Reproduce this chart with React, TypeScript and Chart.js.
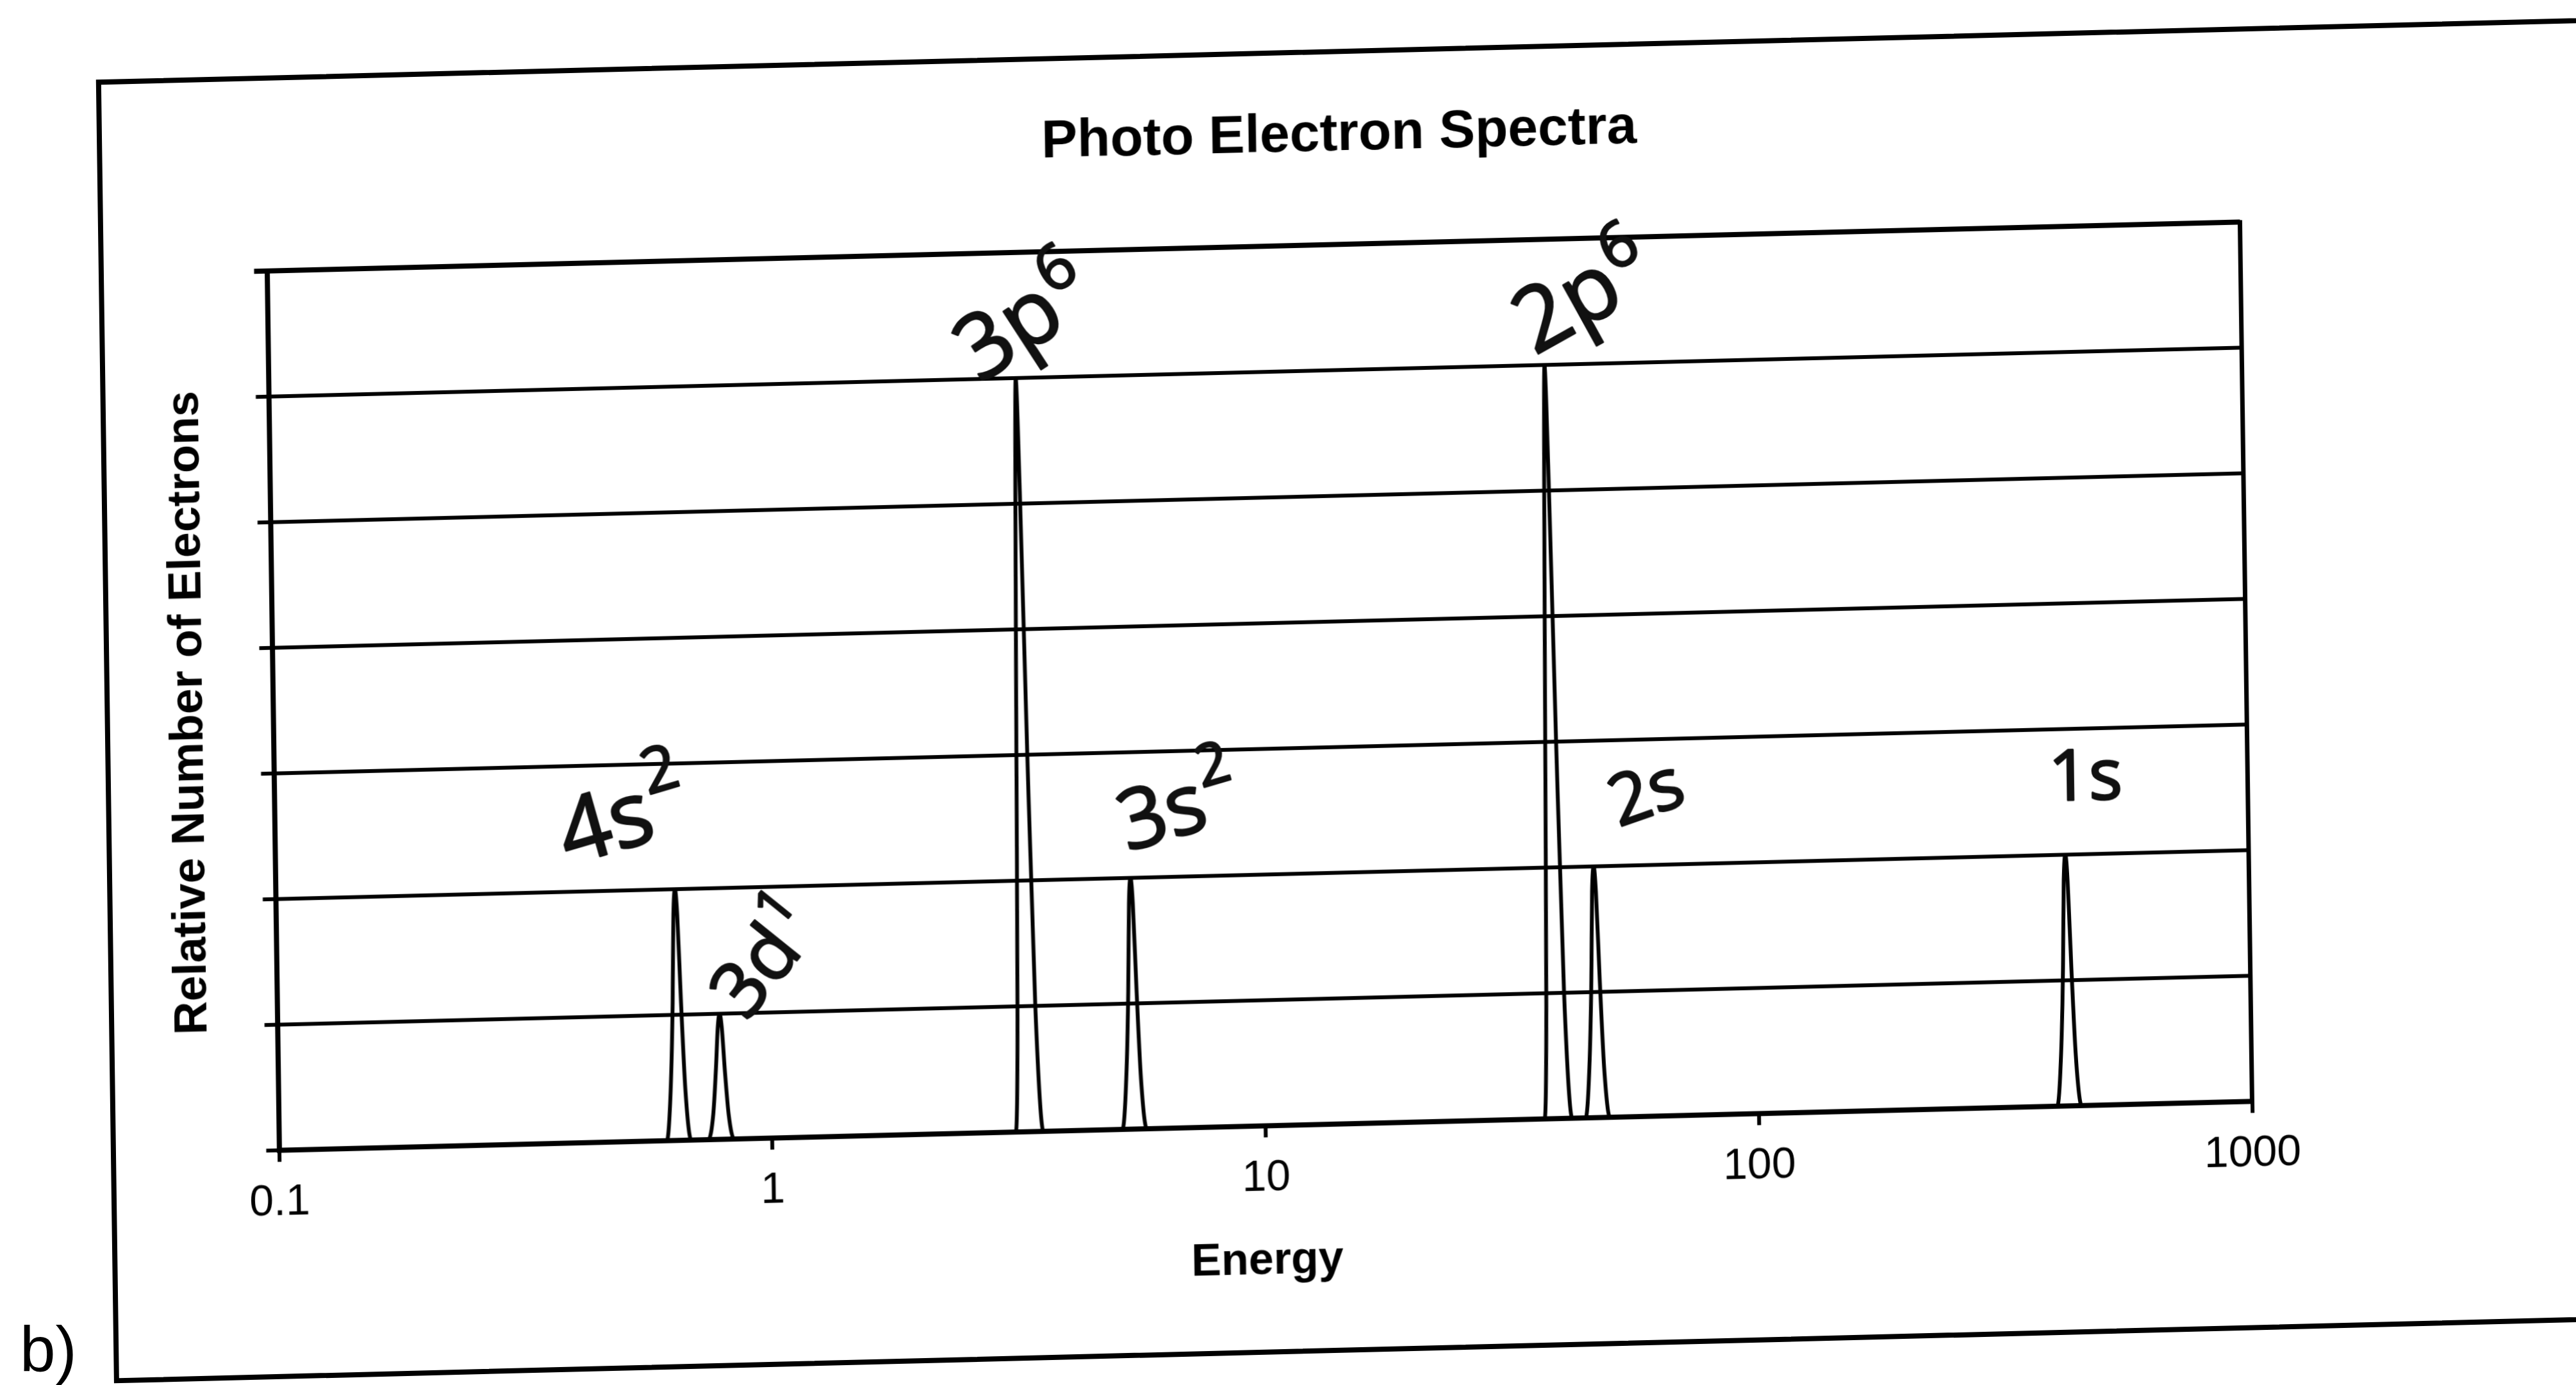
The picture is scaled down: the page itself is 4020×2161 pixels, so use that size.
import React, { useEffect, useRef } from "react";
import { Chart, registerables } from "chart.js";

Chart.register(...registerables);

// ---------------- data ----------------
const chartTitle = "Photo Electron Spectra";
const xAxisTitle = "Energy";
const yAxisTitle = "Relative Number of Electrons";
const xTickValues = [0.1, 1, 10, 100, 1000];
const xTickLabels = ["0.1", "1", "10", "100", "1000"];
const yMin = 0;
const yMax = 7;

// spectrum trace (energy, relative number of electrons)
const energies = [
  0.1,
  0.6112, 0.6241, 0.6335, 0.6393, 0.645, 0.6508, 0.6587, 0.6686, 0.6848,
  0.7422, 0.7602, 0.7717, 0.781, 0.788, 0.7951, 0.8047, 0.8168, 0.8366,
  3.117, 3.164, 3.202, 3.241, 3.27, 3.309, 3.369, 3.441, 3.545,
  5.127, 5.235, 5.314, 5.362, 5.41, 5.459, 5.525, 5.608, 5.744,
  36.8, 37.35, 37.8, 38.26, 38.6, 39.06, 39.77, 40.61, 41.85,
  44.54, 45.48, 46.16, 46.58, 47.0, 47.42, 48.0, 48.72, 49.9,
  402.7, 411.2, 417.4, 421.2, 425.0, 428.8, 434.0, 440.6, 451.2,
  1000,
];
const counts = [
  0,
  0, 0.4, 1.1, 1.8, 2, 1.8, 1.1, 0.4, 0,
  0, 0.2, 0.55, 0.9, 1, 0.9, 0.55, 0.2, 0,
  0, 0.9, 3, 5.1, 6, 5.1, 3, 1, 0,
  0, 0.4, 1.1, 1.8, 2, 1.8, 1.1, 0.4, 0,
  0, 0.9, 3, 5.1, 6, 5.1, 3, 1, 0,
  0, 0.4, 1.1, 1.8, 2, 1.8, 1.1, 0.4, 0,
  0, 0.4, 1.1, 1.8, 2, 1.8, 1.1, 0.4, 0,
  0,
];

// handwritten peak annotations
const peakLabels = ["4s", "3d", "3p", "3s", "2p", "2s", "1s"];
const peakSups = ["2", "1", "6", "2", "6", "", ""];
const peakEnergies = [0.645, 0.788, 3.27, 5.41, 38.6, 47.0, 425];
const peakLevels = [2, 1, 6, 2, 6, 2, 2];

// ---------------- styles ----------------
const labelStyles = [
  { dx: -78, dy: -106, angle: -15, size: 140, supUp: 0.42 },
  { dx: 77, dy: -80, angle: -50, size: 120, supUp: 0.35 },
  { dx: 17, dy: -85, angle: -32, size: 140, supUp: 0.3 },
  { dx: 77, dy: -101, angle: -15, size: 130, supUp: 0.4 },
  { dx: 64, dy: -102, angle: -28, size: 140, supUp: 0.3 },
  { dx: 85, dy: -108, angle: -18, size: 110, supUp: 0.4 },
  { dx: 33, dy: -116, angle: 0, size: 110, supUp: 0.4 },
];

const FONT = "'Liberation Sans', Arial, sans-serif";
const HAND_FONT = "'Open Sans', 'DejaVu Sans', sans-serif";
const CANVAS_W = 4172;
const CANVAS_H = 2200;

export default function App() {
  const canvasRef = useRef<HTMLCanvasElement | null>(null);

  useEffect(() => {
    const canvas = canvasRef.current;
    if (!canvas) return;

    const labelPlugin = {
      id: "handLabels",
      afterDatasetsDraw(chart: any) {
        const { ctx, scales } = chart;
        const xs = scales.x;
        const ys = scales.y;
        ctx.save();
        ctx.fillStyle = "#111";
        ctx.strokeStyle = "#111";
        ctx.lineWidth = 3;
        ctx.lineJoin = "round";
        peakLabels.forEach((txt, i) => {
          const st = labelStyles[i];
          const px = xs.getPixelForValue(peakEnergies[i]) + st.dx;
          const py = ys.getPixelForValue(peakLevels[i]) + st.dy;
          ctx.save();
          ctx.translate(px, py);
          ctx.rotate((st.angle * Math.PI) / 180);
          ctx.textBaseline = "middle";
          ctx.textAlign = "left";
          ctx.font = `400 ${st.size}px ${HAND_FONT}`;
          const w = ctx.measureText(txt).width;
          const supSize = st.size * 0.7;
          ctx.font = `400 ${supSize}px ${HAND_FONT}`;
          const ws = peakSups[i] ? ctx.measureText(peakSups[i]).width : 0;
          const total = w + ws;
          ctx.font = `400 ${st.size}px ${HAND_FONT}`;
          ctx.fillText(txt, -total / 2, 0);
          ctx.strokeText(txt, -total / 2, 0);
          if (peakSups[i]) {
            ctx.font = `400 ${supSize}px ${HAND_FONT}`;
            ctx.fillText(peakSups[i], -total / 2 + w + 2, -st.size * st.supUp);
            ctx.strokeText(peakSups[i], -total / 2 + w + 2, -st.size * st.supUp);
          }
          ctx.restore();
        });
        ctx.restore();
      },
    };

    const chart = new Chart(canvas, {
      type: "line",
      data: {
        datasets: [
          {
            data: energies.map((e, i) => ({ x: e, y: counts[i] })),
            borderColor: "#000",
            borderWidth: 6,
            pointRadius: 0,
            cubicInterpolationMode: "monotone",
            fill: false,
            xAxisID: "x",
            yAxisID: "y",
          } as any,
        ],
      },
      options: {
        responsive: false,
        animation: false,
        devicePixelRatio: 1,
        layout: { padding: 0 },
        plugins: {
          legend: { display: false },
          tooltip: { enabled: false },
          title: {
            display: true,
            text: chartTitle,
            color: "#000",
            font: { family: FONT, size: 84, weight: "bold", lineHeight: 1.2 },
            padding: { top: 212, bottom: 120.6 },
          },
        },
        scales: {
          x: {
            type: "logarithmic",
            position: "bottom",
            min: xTickValues[0],
            max: xTickValues[xTickValues.length - 1],
            afterBuildTicks: (s: any) => {
              s.ticks = xTickValues.map((v) => ({ value: v }));
            },
            afterFit: (s: any) => {
              s.height = 395;
            },
            ticks: {
              autoSkip: false,
              maxRotation: 0,
              minRotation: 0,
              color: "#000",
              font: { family: FONT, size: 68 },
              padding: 23,
              callback: (_v: any, i: number) => xTickLabels[i],
            },
            grid: {
              drawOnChartArea: false,
              drawTicks: true,
              tickLength: 18,
              color: "#000",
              lineWidth: 6,
            },
            border: { display: true, color: "#000", width: 8 },
            title: {
              display: true,
              text: xAxisTitle,
              color: "#000",
              font: { family: FONT, size: 70, weight: "bold", lineHeight: 1.2 },
              padding: { top: 0, bottom: 141 },
            },
          },
          y: {
            type: "linear",
            position: "left",
            min: yMin,
            max: yMax,
            afterFit: (s: any) => {
              s.width = 410.5;
            },
            ticks: { display: false, stepSize: 1 },
            grid: {
              color: "#000",
              lineWidth: (c: any) => (c.tick && c.tick.value === yMax ? 8 : 6),
              tickLength: 20,
              drawTicks: true,
            },
            border: { display: true, color: "#000", width: 8 },
            title: {
              display: true,
              text: yAxisTitle,
              color: "#000",
              font: { family: FONT, size: 72, weight: "bold", lineHeight: 1.2 },
              padding: { top: 236.8, bottom: 0 },
            },
          },
          y2: {
            type: "linear",
            position: "right",
            display: true,
            afterFit: (s: any) => {
              s.width = 682.5;
            },
            grid: { display: false, drawTicks: false },
            ticks: { display: false },
            border: { display: true, color: "#000", width: 7 },
          },
        },
      } as any,
      plugins: [labelPlugin],
    });

    return () => {
      chart.destroy();
    };
  }, []);

  return (
    <div
      style={{
        position: "fixed",
        left: 0,
        top: 0,
        width: 4020,
        height: 2161,
        overflow: "hidden",
        background: "#fff",
      }}
    >
      <div
        style={{
          position: "absolute",
          left: 0,
          top: 0,
          width: 4400,
          height: 2300,
          transformOrigin: "0 0",
          transform: "matrix(1, -0.0248, 0.01385, 1, 0, 0)",
        }}
      >
        <div
          style={{
            position: "absolute",
            left: 148,
            top: 128,
            width: 4300,
            height: 2034,
            border: "8px solid #000",
            boxSizing: "border-box",
          }}
        />
        <canvas
          ref={canvasRef}
          width={CANVAS_W}
          height={CANVAS_H}
          style={{ position: "absolute", left: 0, top: 0, width: CANVAS_W, height: CANVAS_H }}
        />
      </div>
      <div
        style={{
          position: "absolute",
          left: 31,
          top: 2055,
          fontFamily: FONT,
          fontSize: 100,
          lineHeight: 1,
          color: "#000",
          whiteSpace: "nowrap",
        }}
      >
        b)
      </div>
    </div>
  );
}
